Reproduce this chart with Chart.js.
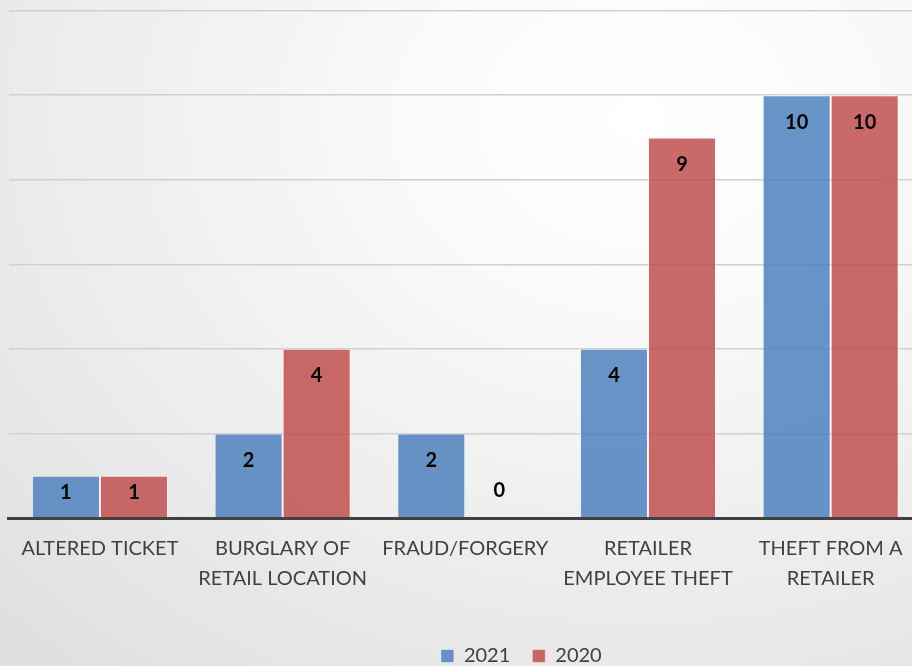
<!DOCTYPE html>
<html>
<head>
<meta charset="utf-8">
<script src="https://cdn.jsdelivr.net/npm/chart.js@4/dist/chart.umd.min.js"></script>
<style>
  html, body { margin: 0; padding: 0; width: 912px; height: 666px; overflow: hidden; }
  body { background: radial-gradient(ellipse 110% 120% at 70% 18%, #ffffff 0%, #fbfbfb 20%, #dcdcdc 100%); }
  #wrap { position: absolute; left: 0; top: 0; width: 922px; height: 666px; }
</style>
</head>
<body>
<div id="wrap"><canvas id="c" width="922" height="666"></canvas></div>
<script>
const categories = ['ALTERED TICKET', ['BURGLARY OF', 'RETAIL LOCATION'], 'FRAUD/FORGERY', ['RETAILER', 'EMPLOYEE THEFT'], ['THEFT FROM A', 'RETAILER']];
const series2021 = [1, 2, 2, 4, 10];
const series2020 = [1, 4, 0, 9, 10];
const seriesNames = ['2021', '2020'];
const yMax = 12;
const yStep = 2;

const FONT = 'Lato, "Open Sans", sans-serif';

const valueLabels = {
  id: 'valueLabels',
  afterDatasetsDraw(chart) {
    const ctx = chart.ctx;
    const base = chart.scales.y.getPixelForValue(0);
    ctx.save();
    ctx.font = 'bold 20px ' + FONT;
    ctx.fillStyle = '#000';
    ctx.textAlign = 'center';
    ctx.textBaseline = 'middle';
    chart.data.datasets.forEach((ds, di) => {
      chart.getDatasetMeta(di).data.forEach((bar, i) => {
        const v = ds.data[i];
        let y;
        if (v === 0) {
          y = base - 27;
        } else {
          y = Math.min(bar.y + 27, (bar.y + base) / 2 - 4);
        }
        ctx.fillText(String(v), bar.x, y);
      });
    });
    ctx.restore();
  }
};

const legendShift = {
  id: 'legendShift',
  afterLayout(chart) {
    const lg = chart.legend;
    if (!lg) return;
    lg.left += 56; lg.right += 56;
    lg.top += 10; lg.bottom += 10;
  }
};

new Chart(document.getElementById('c'), {
  type: 'bar',
  data: {
    labels: categories,
    datasets: [
      { label: seriesNames[0], data: series2021, backgroundColor: 'rgba(79,129,189,0.85)', borderColor: 'rgba(255,255,255,0.45)', borderWidth: 1 },
      { label: seriesNames[1], data: series2020, backgroundColor: 'rgba(192,80,77,0.85)', borderColor: 'rgba(255,255,255,0.45)', borderWidth: 1 }
    ]
  },
  options: {
    responsive: false,
    animation: false,
    layout: { padding: { left: 8.6, top: 10.6, right: 0, bottom: 0 } },
    datasets: { bar: { categoryPercentage: 0.745, barPercentage: 1.0 } },
    plugins: {
      tooltip: { enabled: false },
      legend: {
        position: 'bottom',
        labels: {
          boxWidth: 13, boxHeight: 13, padding: 22,
          color: '#404040',
          font: { size: 20, family: FONT }
        }
      }
    },
    scales: {
      x: {
        grid: { display: false, drawTicks: false },
        border: { display: true, color: '#404040', width: 3 },
        ticks: {
          color: '#404040', padding: 16, maxRotation: 0, autoSkip: false,
          font: { size: 20, family: FONT, lineHeight: 1.5 }
        },
        afterFit(scale) { scale.height = 96; }
      },
      y: {
        min: 0, max: yMax,
        ticks: { display: false, stepSize: yStep },
        grid: { color: '#d0d0d0', lineWidth: 1.5, drawTicks: false },
        border: { display: false },
        afterFit(scale) { scale.width = 0; }
      }
    }
  },
  plugins: [valueLabels, legendShift]
});
</script>
</body>
</html>
